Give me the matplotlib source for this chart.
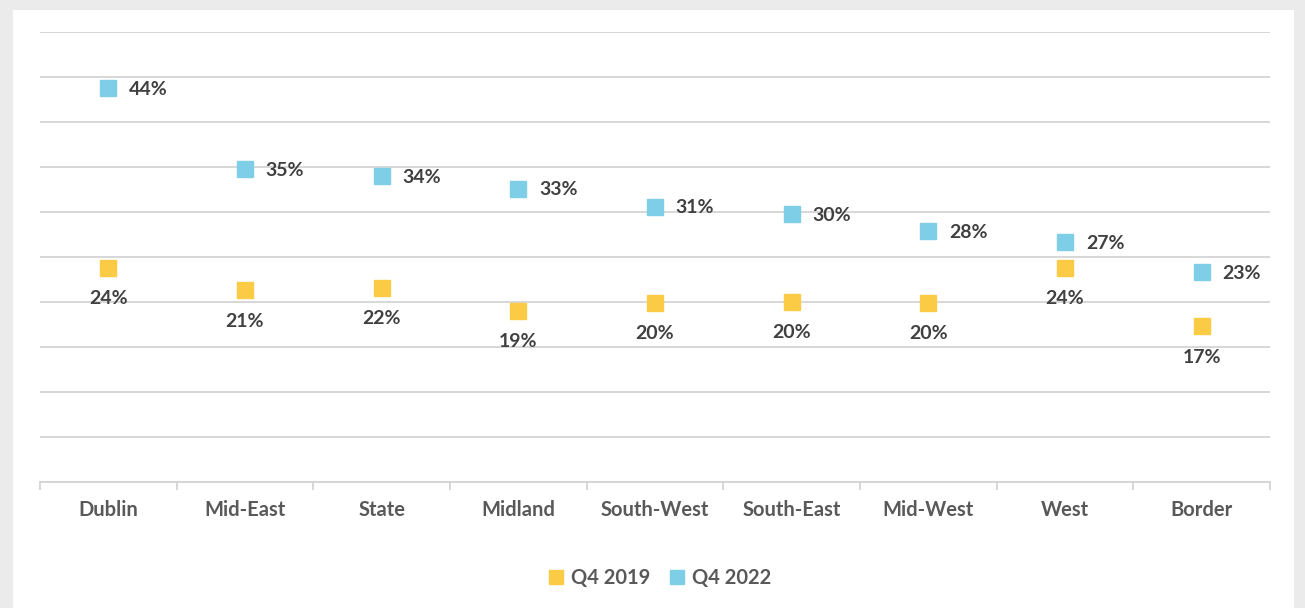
import numpy as np
import matplotlib.pyplot as plt
from matplotlib.patches import Rectangle

# regions along the x axis
regions = ["Dublin", "Mid-East", "State", "Midland", "South-West",
           "South-East", "Mid-West", "West", "Border"]
# share values in percent
q4_2019 = [23.8, 21.3, 21.6, 19.0, 19.9, 20.0, 19.9, 23.8, 17.3]
q4_2022 = [43.8, 34.8, 34.0, 32.6, 30.6, 29.8, 27.9, 26.7, 23.3]

c_2019 = "#FCCB45"
c_2022 = "#7FCEE8"
txt_dark = "#404040"
txt_grey = "#595959"

plt.rcParams['font.family'] = ['Lato', 'DejaVu Sans']

fig = plt.figure(figsize=(13.05, 6.08), dpi=100)
fig.patch.set_facecolor("#EBEBEB")
# white panel inside the grey frame
fig.patches.append(Rectangle((13 / 1305, 0), (1294 - 13) / 1305, 1 - 10 / 608,
                             transform=fig.transFigure, facecolor="white",
                             edgecolor="none", zorder=-5))

ax = fig.add_axes([40 / 1305, 1 - 482 / 608, 1230 / 1305, 450 / 608])
ax.set_facecolor("none")
ax.set_zorder(2)

x = np.arange(len(regions))
ax.plot(x, q4_2019, linestyle="none", marker="s", markersize=12,
        color=c_2019, label="Q4 2019", zorder=3)
ax.plot(x, q4_2022, linestyle="none", marker="s", markersize=12,
        color=c_2022, label="Q4 2022", zorder=3)

# data labels: 2019 below, 2022 to the right
for i in range(len(regions)):
    ax.annotate(f"{round(q4_2019[i])}%", (x[i], q4_2019[i]),
                xytext=(0, -16), textcoords="offset points",
                ha="center", va="top", fontsize=14, fontweight="bold",
                color=txt_dark)
    ax.annotate(f"{round(q4_2022[i])}%", (x[i], q4_2022[i]),
                xytext=(15, -1), textcoords="offset points",
                ha="left", va="center", fontsize=14, fontweight="bold",
                color=txt_dark)

ax.set_xlim(-0.5, len(regions) - 0.5)
ax.set_ylim(0, 50)
ax.set_yticks(np.arange(0, 51, 5))
ax.yaxis.grid(True, color="#D4D4D4", linewidth=1.3)
ax.set_axisbelow(True)
ax.tick_params(axis="y", left=False, labelleft=False)

ax.set_xticks(x)
ax.set_xticklabels(regions, fontsize=14.5, fontweight="bold", color=txt_grey)
ax.set_xticks(np.arange(-0.5, len(regions)), minor=True)
ax.tick_params(axis="x", which="major", length=0, pad=13)
ax.tick_params(axis="x", which="minor", length=6, color="#D4D4D4", width=1.3)

for s in ["top", "left", "right"]:
    ax.spines[s].set_visible(False)
ax.spines["bottom"].set_color("#D4D4D4")
ax.spines["bottom"].set_linewidth(1.3)

leg = fig.legend(loc="center", bbox_to_anchor=(660 / 1305, 1 - 578 / 608),
                 ncol=2, frameon=False, fontsize=14.5, handlelength=0.7,
                 handletextpad=0.4, columnspacing=1.0, markerscale=0.85)
for t in leg.get_texts():
    t.set_color(txt_grey)
    t.set_fontweight("bold")

fig.savefig("out.png", dpi=100)
